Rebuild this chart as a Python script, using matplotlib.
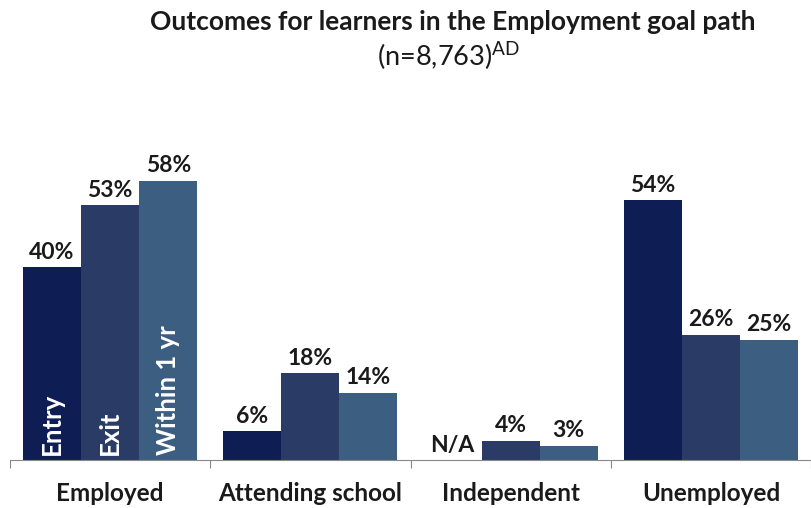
import numpy as np
import matplotlib.pyplot as plt

plt.rcParams['font.family'] = ['Lato', 'DejaVu Sans']

# Data
categories = ["Employed", "Attending school", "Independent", "Unemployed"]
series_names = ["Entry", "Exit", "Within 1 yr"]
entry = [40, 6, None, 54]
exit_ = [53, 18, 4, 26]
within_1yr = [58, 14, 3, 25]
colors = ["#0f1d55", "#2a3c66", "#3c5e81"]

W, H = 811, 508
fig = plt.figure(figsize=(W / 100, H / 100), dpi=100)
ax = fig.add_axes([10 / W, (H - 460) / H, 801 / W, (460 - 123) / H])

x = np.arange(len(categories))
bw = 0.29
all_series = [entry, exit_, within_1yr]
for i, (vals, col) in enumerate(zip(all_series, colors)):
    pos = x + (i - 1) * bw
    hts = [v if v is not None else 0 for v in vals]
    ax.bar(pos, hts, width=bw, color=col, edgecolor="none")
    for p, v in zip(pos, vals):
        label = f"{v}%" if v is not None else "N/A"
        ax.text(p, (v or 0) + 0.9, label, ha="center", va="bottom",
                fontsize=16.5, fontweight="bold", color="#1a1a1a")

# series names inside first group
for i, name in enumerate(series_names):
    ax.text(x[0] + (i - 1) * bw, 1, name, rotation=90, ha="center", va="bottom",
            fontsize=18.5, fontweight="bold", color="white")

ax.set_xlim(-0.5, len(categories) - 0.5)
ax.set_ylim(0, 70)
ax.set_yticks([])
ax.set_xticks(np.arange(len(categories) + 1) - 0.5)
ax.set_xticklabels([])
ax.tick_params(axis="x", direction="out", length=6, color="#888888")
for c, lab in zip(x, categories):
    ax.text(c, -0.1, lab, transform=ax.get_xaxis_transform(), ha="center",
            va="center", fontsize=17.5, fontweight="bold", color="#1a1a1a")
for s in ["top", "right", "left"]:
    ax.spines[s].set_visible(False)
ax.spines["bottom"].set_color("#888888")

fig.text(453 / W, 1 - 22 / H, "Outcomes for learners in the Employment goal path",
         ha="center", va="center", fontsize=19, fontweight="bold", color="#1a1a1a")
fig.text(449 / W, 1 - 56 / H, r"(n=8,763)$^{\mathregular{AD}}$",
         ha="center", va="center", fontsize=19.5, color="#1a1a1a")

fig.savefig("out.png", dpi=100)
